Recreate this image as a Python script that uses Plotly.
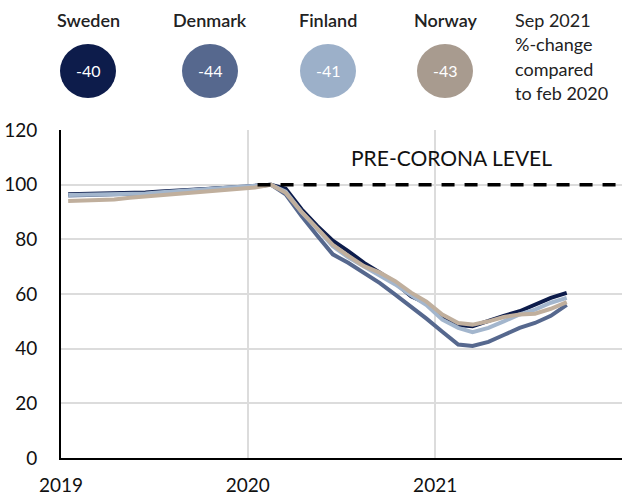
import plotly.graph_objects as go

# ---------------- data ----------------
months = [f"{y}-{m:02d}-15" for y in (2019, 2020, 2021) for m in range(1, 13)][:33]

sweden = [96.5, 96.6, 96.7, 96.6, 96.8, 97.1, 97.5, 97.9, 98.2, 98.5, 98.8, 99.0,
          99.4, 100.0, 98.5, 91.0, 85.0, 79.5, 75.7, 71.4, 67.8, 64.0, 59.2, 56.6,
          52.0, 48.6, 48.2, 50.2, 52.0, 53.7, 56.0, 58.6, 60.4]
denmark = [96.0, 96.1, 96.3, 96.3, 96.4, 96.8, 97.2, 97.6, 98.0, 98.4, 98.7, 99.0,
           99.5, 100.0, 96.5, 88.5, 81.5, 74.5, 71.4, 67.8, 64.0, 59.8, 55.5, 51.0,
           46.2, 41.5, 41.0, 42.5, 45.0, 47.6, 49.4, 52.0, 56.0]
finland = [96.2, 96.3, 96.4, 96.4, 96.5, 96.8, 97.2, 97.6, 98.0, 98.4, 98.7, 99.0,
           99.4, 100.0, 97.5, 90.0, 84.0, 77.5, 73.4, 70.0, 67.0, 63.5, 59.5, 56.0,
           50.6, 47.6, 46.0, 47.6, 50.0, 52.5, 54.3, 56.8, 58.6]
norway = [94.0, 94.2, 94.6, 94.6, 95.2, 95.7, 96.2, 96.7, 97.2, 97.7, 98.2, 98.6,
          99.0, 100.0, 97.0, 90.0, 84.0, 78.0, 74.0, 70.2, 67.8, 64.7, 60.5, 57.2,
          52.5, 49.4, 48.8, 50.0, 51.6, 52.5, 52.8, 54.6, 57.0]

countries = ["Sweden", "Denmark", "Finland", "Norway"]
sep_change = ["-40", "-44", "-41", "-43"]
pre_corona_level = 100
pre_corona_x = ["2020-01-20", "2022-01-01"]

x_ticks = ["2019-01-01", "2020-01-01", "2021-01-01"]
x_tick_text = ["2019", "2020", "2021"]
note_lines = ["Sep 2021", "%-change", "compared", "to feb 2020"]

# ---------------- styling ----------------
FONT = "Lato"
bubble_colors = ["#0d1c4b", "#56688e", "#9cb0c9", "#a89b8f"]
line_colors = ["#0d1c4b", "#56688e", "#a3b6cd", "#c0af9d"]

# plot-area pixel geometry for placing legend annotations
L, R, T, B = 61, 622, 130, 458
def px(x):
    return (x - L) / (R - L)
def py(y):
    return (B - y) / (B - T)

fig = go.Figure()
series = {"Sweden": sweden, "Denmark": denmark, "Finland": finland, "Norway": norway}
order = ["Denmark", "Sweden", "Finland", "Norway"]
for name in order:
    i = countries.index(name)
    fig.add_trace(go.Scatter(x=months, y=series[name], mode="lines", name=name,
                             line=dict(color=line_colors[i], width=4),
                             showlegend=False))

fig.add_trace(go.Scatter(x=pre_corona_x, y=[pre_corona_level] * 2, mode="lines",
                         line=dict(color="black", width=3.5, dash="13px,10px"),
                         showlegend=False))

fig.add_annotation(x="2021-02-01", y=pre_corona_level, yshift=27, text="PRE-CORONA LEVEL",
                   showarrow=False, font=dict(family=FONT, size=21, color="#111111"),
                   xanchor="center", yanchor="middle")

# legend-like header
centers = [88, 210, 328, 445]
for name, val, col, cx in zip(countries, sep_change, bubble_colors, centers):
    fig.add_annotation(xref="paper", yref="paper", x=px(cx), y=py(20), text=name,
                       showarrow=False, xanchor="center", yanchor="middle",
                       font=dict(family=FONT, size=18, color="#222222", weight=600))
    fig.add_shape(type="circle", xref="paper", yref="paper",
                  xsizemode="pixel", ysizemode="pixel",
                  xanchor=px(cx), yanchor=py(71), x0=-28, x1=28, y0=-27, y1=27,
                  fillcolor=col, line=dict(width=0), layer="above")
    fig.add_annotation(xref="paper", yref="paper", x=px(cx), y=py(71), text=val,
                       showarrow=False, xanchor="center", yanchor="middle",
                       font=dict(family=FONT, size=16, color="white"))

for k, line in enumerate(note_lines):
    fig.add_annotation(xref="paper", yref="paper", x=px(513), y=py(20 + 24.5 * k),
                       text=line, showarrow=False, xanchor="left", yanchor="middle",
                       font=dict(family=FONT, size=18, color="#222222"))

fig.update_layout(
    width=622, height=497,
    margin=dict(l=L, r=622 - R, t=T, b=497 - B, autoexpand=False),
    paper_bgcolor="white", plot_bgcolor="white",
    font=dict(family=FONT, size=19, color="#111111"),
    xaxis=dict(type="date", range=["2019-01-01", "2022-01-01"],
               tickvals=x_ticks, ticktext=x_tick_text, automargin=False,
               showgrid=True, gridcolor="#dcdcdc", gridwidth=2,
               showline=True, linecolor="black", linewidth=2,
               ticks="", ticklabelstandoff=9, zeroline=False),
    yaxis=dict(range=[0, 120], tick0=0, dtick=20, automargin=False,
               showgrid=True, gridcolor="#dcdcdc", gridwidth=2,
               showline=True, linecolor="black", linewidth=2,
               ticks="", ticklabelstandoff=18, zeroline=False),
)

fig.write_html(
    "out.html",
    config={"displayModeBar": False},
    post_script="document.documentElement.style.margin='0';"
                "document.body.style.margin='0';document.body.style.overflow='hidden';",
)
